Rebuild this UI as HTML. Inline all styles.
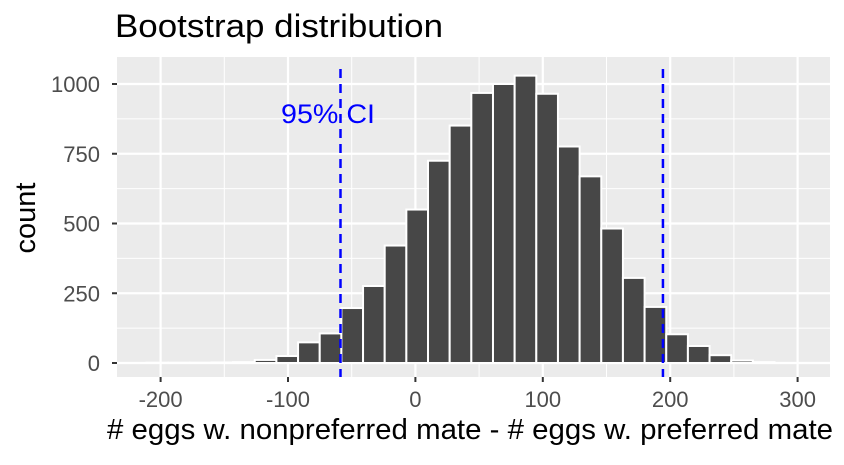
<!DOCTYPE html>
<html><head><meta charset="utf-8"><style>
body{margin:0;background:#fff;}
svg text{font-family:"Liberation Sans",Arial,sans-serif;}
</style></head><body>
<svg id="chart" width="844" height="460" viewBox="0 0 844 460">
<text x="115" y="37" font-size="32" textLength="328" lengthAdjust="spacingAndGlyphs" fill="#000">Bootstrap distribution</text>
<rect x="117" y="57" width="713" height="320" fill="#ebebeb"/>
<g id="grid"></g><g id="bars"></g><g id="ci"></g><g id="axes"></g>
<text x="281" y="123" font-size="27" textLength="94" lengthAdjust="spacingAndGlyphs" fill="#0000ff">95% CI</text>
<text transform="translate(35,218) rotate(-90)" font-size="29" text-anchor="middle" fill="#000">count</text>
<text x="107" y="439" font-size="29" textLength="726" lengthAdjust="spacingAndGlyphs" fill="#000"># eggs w. nonpreferred mate - # eggs w. preferred mate</text>
</svg>
<script>
const binCenters=[-202.6,-185.6,-168.6,-151.6,-134.6,-117.6,-100.6,-83.6,-66.6,-49.6,-32.6,-15.6,1.4,18.4,35.4,52.4,69.4,86.4,103.4,120.4,137.4,154.4,171.4,188.4,205.4,222.4,239.4,256.4,273.4];
const counts=[1,1,1,2,3,11,25,74,106,197,276,421,550,725,851,968,1000,1030,965,776,669,482,305,201,103,61,28,9,3];
const binWidth=17;
const ciBounds=[-58.8,194.3];
const xTicks=[-200,-100,0,100,200,300];
const yTicks=[0,250,500,750,1000];
const NS='http://www.w3.org/2000/svg';
const X=v=>415.4+v*1.274;
const Y=v=>363-v*0.279;
function mk(tag,attrs,parent){const e=document.createElementNS(NS,tag);for(const k in attrs)e.setAttribute(k,attrs[k]);document.getElementById(parent).appendChild(e);return e;}
for(let i=0;i<xTicks.length;i++){
 const t=xTicks[i];
 const m=mk('line',{x1:X(t+50),x2:X(t+50),y1:57,y2:377,stroke:'#fff','stroke-width':1},'grid');
 
 
 const g=mk('line',{x1:X(t),x2:X(t),y1:57,y2:377,stroke:'#fff','stroke-width':2.2},'grid');
 
 
 const tk=mk('line',{x1:X(t),x2:X(t),y1:377,y2:382,stroke:'#333','stroke-width':2},'axes');
 
 
 const lb=mk('text',{x:X(t),y:407,'font-size':22,fill:'#4d4d4d','text-anchor':'middle'},'axes');
 lb.textContent=t;
 
 
}
for(let i=0;i<yTicks.length;i++){
 const t=yTicks[i];
 const m=mk('line',{x1:117,x2:830,y1:Y(t+125),y2:Y(t+125),stroke:'#fff','stroke-width':1},'grid');
 
 
 const g=mk('line',{x1:117,x2:830,y1:Y(t),y2:Y(t),stroke:'#fff','stroke-width':2.2},'grid');
 
 
 const tk=mk('line',{x1:112,x2:117,y1:Y(t),y2:Y(t),stroke:'#333','stroke-width':2},'axes');
 
 
 const lb=mk('text',{x:100,y:Y(t)+8,'font-size':22,fill:'#4d4d4d','text-anchor':'end'},'axes');
 lb.textContent=t;
 
 
}
for(let i=0;i<counts.length;i++){
 const x0=X(binCenters[i]-binWidth/2),x1=X(binCenters[i]+binWidth/2);
 const b=mk('rect',{x:x0,y:Y(counts[i]),width:x1-x0,height:Y(0)-Y(counts[i]),fill:'#474747',stroke:'#fff','stroke-width':2},'bars');
 
 
}
for(const c of ciBounds){
 const l=mk('line',{x1:X(c),x2:X(c),y1:69,y2:377,stroke:'#0000ff','stroke-width':2.5,'stroke-dasharray':'9,6'},'ci');
 
 
}
</script>
</body></html>
